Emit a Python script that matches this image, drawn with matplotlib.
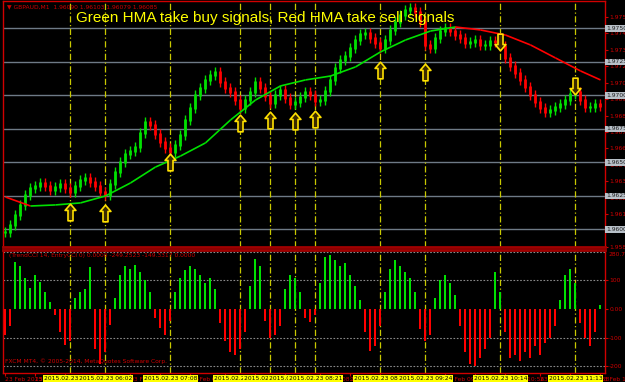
import matplotlib
matplotlib.use('Agg')
import matplotlib.pyplot as plt
import numpy as np
from matplotlib.collections import LineCollection
from matplotlib.path import Path

# close price per bar (GBPAUD)
close = [1.95981, 1.96034, 1.96108, 1.96183, 1.96257, 1.96310, 1.96325, 1.96347, 1.96325, 1.96295,
         1.96317, 1.96340, 1.96310, 1.96280, 1.96325, 1.96369, 1.96384, 1.96354, 1.96325, 1.96280,
         1.96257, 1.96340, 1.96429, 1.96504, 1.96563, 1.96586, 1.96616, 1.96720, 1.96802, 1.96780,
         1.96713, 1.96653, 1.96608, 1.96578, 1.96631, 1.96705, 1.96817, 1.96907, 1.97004, 1.97056,
         1.97116, 1.97153, 1.97175, 1.97101, 1.97056, 1.97026, 1.96966, 1.96907, 1.96966, 1.97026,
         1.97101, 1.97056, 1.96996, 1.96944, 1.97004, 1.97041, 1.96981, 1.96937, 1.96951, 1.96989,
         1.97026, 1.97004, 1.96959, 1.96966, 1.97034, 1.97116, 1.97205, 1.97265, 1.97295, 1.97355,
         1.97414, 1.97459, 1.97466, 1.97429, 1.97392, 1.97355, 1.97414, 1.97489, 1.97549, 1.97601,
         1.97638, 1.97653, 1.97623, 1.97549, 1.97377, 1.97355, 1.97429, 1.97481, 1.97504, 1.97481,
         1.97451, 1.97429, 1.97392, 1.97399, 1.97414, 1.97377, 1.97377, 1.97407, 1.97399, 1.97369,
         1.97280, 1.97220, 1.97168, 1.97116, 1.97063, 1.97004, 1.96951, 1.96907, 1.96877, 1.96892,
         1.96914, 1.96937, 1.96966, 1.97011, 1.97026, 1.96966, 1.96914, 1.96914, 1.96937, 1.96922]

# slow HMA line
ma_bar = [0, 5, 10, 15, 20, 25, 30, 35, 40, 45, 50, 55, 60, 65, 70, 75, 80, 85, 90, 95,
          100, 105, 110, 115, 119]
ma_val = [1.96242, 1.96175, 1.96183, 1.96198, 1.96250, 1.96347, 1.96466, 1.96548, 1.96646, 1.96817,
          1.96966, 1.97071, 1.97116, 1.97145, 1.97213, 1.97325, 1.97414, 1.97481, 1.97511, 1.97489,
          1.97451, 1.97377, 1.97280, 1.97183, 1.97116]

# CCI histogram
cci = [-90, -60, 165, 150, 110, 75, 120, 95, 60, 25,
       -20, -80, -125, -110, 40, 60, 70, 145, -140, -190,
       -150, -55, 40, 120, 150, 140, 155, 130, 100, 60,
       -30, -65, -90, -40, 60, 110, 135, 150, 140, 120,
       90, 110, 70, -50, -110, -150, -160, -140, -80, 80,
       175, 150, -40, -100, -90, -60, 70, 120, 110, 60,
       -30, -45, -20, 90, 180, 190, 170, 150, 160, 120,
       80, 30, -80, -145, -130, -60, 60, 140, 170, 150,
       130, 110, 60, -70, -110, -90, 40, 100, 120, 90,
       50, -60, -150, -190, -200, -170, -140, -100, 130, 60,
       -80, -170, -160, -180, -150, -170, -130, -160, -120, -100,
       -60, 30, 120, 140, 90, -50, -100, -130, -80, 15]

# signals
buy_bar = [13, 20, 33, 47, 53, 58, 62, 75, 84]
buy_price = [1.96131, 1.96123, 1.96504, 1.96795, 1.96817, 1.96810, 1.96825, 1.97190, 1.97175]
sell_bar = [99, 114]
sell_price = [1.97399, 1.97071]
signal_bar = buy_bar + sell_bar
signal_time = ['2015.02.23 03:44', '2015.02.23 06:02', '2015.02.23 07:08', '2015.02.23 07:41',
               '2015.02.23 07:55', '2015.02.23 08:18', '2015.02.23 08:21', '2015.02.23 08:58',
               '2015.02.23 09:24', '2015.02.23 10:14', '2015.02.23 11:13']

price_ticks = [1.97585, 1.97463, 1.97340, 1.97218, 1.97095, 1.96973, 1.96850, 1.96728,
               1.96605, 1.96483, 1.96360, 1.96238, 1.96115, 1.95993, 1.95870]
level_lines = [1.97500, 1.97250, 1.97000, 1.96750, 1.96500, 1.96250, 1.96000]

time_bar = [0, 6, 12, 18, 25, 31, 37, 44, 50, 56, 63, 69, 75, 81, 88, 94, 100, 107, 113, 119]
time_lbl = ['23 Feb 2015', '23 Feb 01:20', '23 Feb 03:30', '23 Feb 05:10', '23 Feb 06:20',
            '23 Feb 06:54', '23 Feb 07:12', '23 Feb 07:31', '23 Feb 07:49', '23 Feb 08:06',
            '23 Feb 08:31', '23 Feb 08:45', '23 Feb 08:58', '23 Feb 09:19', '23 Feb 09:40',
            '23 Feb 10:02', '23 Feb 10:56', '23 Feb 11:07', '23 Feb 11:58', '23 Feb 13:27']

RED = '#d00000'
GRID = '#6e7a86'
VLINE = '#c8c800'
small = 4.3

fig = plt.figure(figsize=(6.25, 3.82), dpi=100, facecolor='black')
ax = fig.add_axes([3/625, 1 - 247/382, 602/625, 246/382], facecolor='black')
ax2 = fig.add_axes([3/625, 1 - 373/382, 602/625, 123/382], facecolor='black')

x = np.arange(len(close))
c = np.array(close)
o = np.concatenate([[c[0]], c[:-1]])
wick = 0.0004
up = c >= o
cols = np.where(up, '#00e000', '#ff0000')
ax.vlines(x, np.minimum(o, c) - wick, np.maximum(o, c) + wick, colors=cols, lw=1.0, zorder=3)
ax.vlines(x, np.minimum(o, c) - 0.00008, np.maximum(o, c) + 0.00008, colors=cols, lw=2.0, zorder=3)

# HMA line, red when falling
pts = np.column_stack([ma_bar, ma_val])
segs = np.stack([pts[:-1], pts[1:]], axis=1)
seg_cols = ['#00e000' if b >= a else '#ff0000' for a, b in zip(ma_val[:-1], ma_val[1:])]
ax.add_collection(LineCollection(segs, colors=seg_cols, lw=1.2, zorder=4))

for lv in level_lines:
    ax.axhline(lv, color=GRID, lw=1.0, zorder=1)
    ax.text(1.002, lv, f'{lv:.5f}', transform=ax.get_yaxis_transform(), fontsize=small,
            color='#202020', va='center', ha='left', zorder=6,
            bbox=dict(boxstyle='square,pad=0.15', fc='#b8c0c8', ec='none'))

# block arrows
up_arrow = Path([(0, 1), (0.65, 0.25), (0.3, 0.25), (0.3, -1), (-0.3, -1), (-0.3, 0.25),
                 (-0.65, 0.25), (0, 1)], closed=True)
dn_arrow = Path([(0, -1), (0.65, -0.25), (0.3, -0.25), (0.3, 1), (-0.3, 1), (-0.3, -0.25),
                 (-0.65, -0.25), (0, -1)], closed=True)
ax.plot(buy_bar, buy_price, ls='none', marker=up_arrow, ms=12, mfc='#3a2a00', mec='#ffe000',
        mew=1.2, zorder=5)
ax.plot(sell_bar, sell_price, ls='none', marker=dn_arrow, ms=12, mfc='#3a2a00', mec='#ffe000',
        mew=1.2, zorder=5)

for b in signal_bar:
    for a in (ax, ax2):
        a.axvline(b, color=VLINE, lw=0.9, ls=(0, (5, 2, 1, 2)), zorder=2)

ax.set_xlim(-0.5, 119.9)
ax.set_ylim(1.95869, 1.97705)
ax.yaxis.tick_right()
ax.set_yticks(price_ticks)
ax.set_yticklabels([f'{t:.5f}' for t in price_ticks])
ax.tick_params(axis='y', colors=RED, labelsize=small, length=2, pad=1)
ax.set_xticks([])
for s in ax.spines.values():
    s.set_color(RED)
    s.set_linewidth(1.0)
ax.spines['bottom'].set_color('#a00000')
ax.spines['bottom'].set_linewidth(2.0)

ax.text(0.006, 0.985, '\u25bc GBPAUD,M1  1.96090 1.96103 1.96079 1.96085', transform=ax.transAxes,
        fontsize=small, color=RED, va='top', ha='left')
fig.text(0.424, 0.953, 'Green HMA take buy signals, Red HMA take sell signals',
         fontsize=11, color='#ffff00', ha='center', va='center', family='Liberation Sans')

# lower panel
h = np.array(cci)
ax2.bar(x, h, width=0.4, color=np.where(h >= 0, '#00e000', '#ff0000'), zorder=3)
for lv in (200, 100, -100, -200):
    ax2.axhline(lv, color='#8a8a8a', lw=0.8, ls=(0, (1.5, 1.5)), zorder=1)
ax2.set_xlim(-0.5, 119.9)
ax2.set_ylim(-223, 206)
ax2.yaxis.tick_right()
ax2.set_yticks([100, 0, -100, -200])
ax2.set_yticklabels(['100', '0.00', '-100', '-200'])
ax2.tick_params(axis='y', colors=RED, labelsize=small, length=2, pad=1)
ax2.text(1.005, 0.985, '280.7629', transform=ax2.transAxes, fontsize=small, color=RED,
         va='top', ha='left')
ax2.set_xticks(time_bar)
ax2.set_xticklabels(time_lbl, ha='left')
ax2.tick_params(axis='x', colors=RED, labelsize=small, length=2, pad=1)
for s in ax2.spines.values():
    s.set_color(RED)
    s.set_linewidth(1.0)
ax2.spines['top'].set_color('#a00000')
ax2.spines['top'].set_linewidth(2.0)
ax2.text(0.01, 0.975, '(TrendCCI 14, EntryCCI 0) 0.0000 -249.2523 -149.3317 0.0000',
         transform=ax2.transAxes, fontsize=small, color=RED, va='top', ha='left')
ax2.text(0.004, 0.07, 'FXCM MT4, \u00a9 2005-2014, MetaQuotes Software Corp.',
         transform=ax2.transAxes, fontsize=small, color=RED, va='bottom', ha='left', zorder=6)

for b, t in zip(signal_bar, signal_time):
    ax2.text(b, -0.025, t, transform=ax2.get_xaxis_transform(), fontsize=small, color='black',
             ha='center', va='top', zorder=7,
             bbox=dict(boxstyle='square,pad=0.1', fc='#ffff00', ec='none'))

fig.savefig('out.png', dpi=100, facecolor='black')
